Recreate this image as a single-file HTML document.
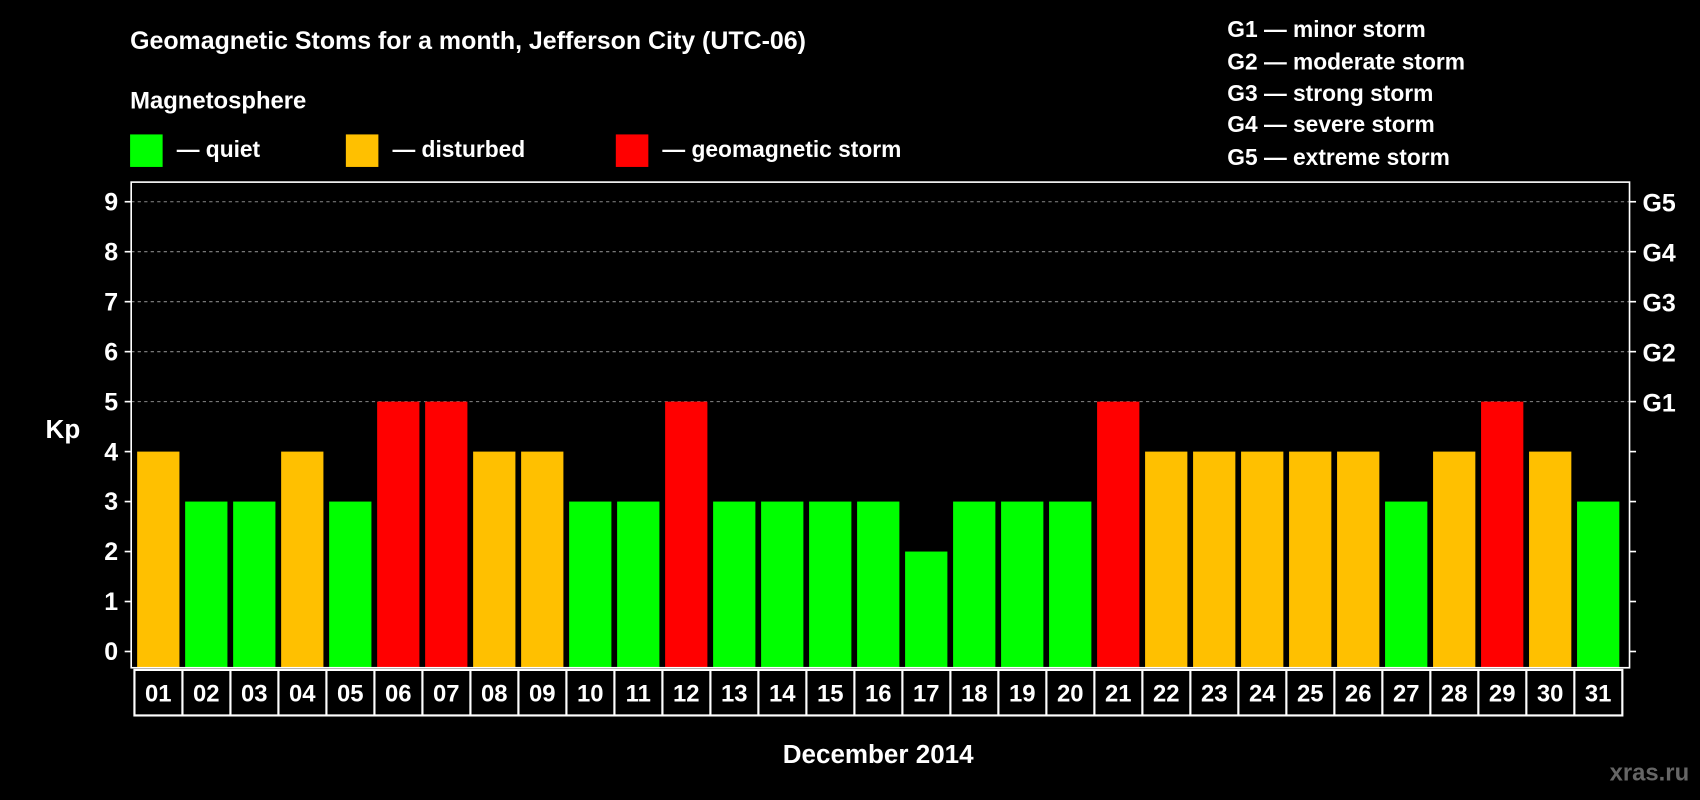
<!DOCTYPE html>
<html><head><meta charset="utf-8"><style>
html,body{margin:0;padding:0;background:#000;}
svg{display:block;font-family:"Liberation Sans",sans-serif;font-weight:bold;}
</style></head><body>
<svg width="1700" height="800" viewBox="0 0 1568 738" preserveAspectRatio="none" xmlns="http://www.w3.org/2000/svg">
<rect width="1568" height="738" fill="#000"/>
<text x="120" y="45" fill="#fff" font-size="23">Geomagnetic Stoms for a month, Jefferson City (UTC-06)</text>
<text x="120" y="100" fill="#fff" font-size="22">Magnetosphere</text>
<g><rect x="120" y="124" width="30" height="30" fill="#00ff00"/><text x="163" y="145" fill="#fff" font-size="21">— quiet</text></g>
<g><rect x="319" y="124" width="30" height="30" fill="#ffc000"/><text x="362" y="145" fill="#fff" font-size="21">— disturbed</text></g>
<g><rect x="568" y="124" width="30" height="30" fill="#ff0000"/><text x="611" y="145" fill="#fff" font-size="21">— geomagnetic storm</text></g>
<g fill="#fff" font-size="21">
<text x="1132" y="34">G1 — minor storm</text><text x="1132" y="64">G2 — moderate storm</text><text x="1132" y="93">G3 — strong storm</text><text x="1132" y="122">G4 — severe storm</text><text x="1132" y="152">G5 — extreme storm</text>
</g>
<g id="plot"></g>
<text x="58" y="404" fill="#fff" font-size="24" text-anchor="middle">Kp</text>
<text x="810" y="704" fill="#fff" font-size="24" text-anchor="middle">December 2014</text>
<text x="1558" y="720" fill="#666" font-size="22" text-anchor="end">xras.ru</text>
</svg>
<script>
const days=["01","02","03","04","05","06","07","08","09","10","11","12","13","14","15","16","17","18","19","20","21","22","23","24","25","26","27","28","29","30","31"];
const kp=[4,3,3,4,3,5,5,4,4,3,3,5,3,3,3,3,2,3,3,3,5,4,4,4,4,4,3,4,5,4,3];
const yTicks=[0,1,2,3,4,5,6,7,8,9];
const gLabels=["","","","","","G1","G2","G3","G4","G5"];
const NS="http://www.w3.org/2000/svg";
const g=document.getElementById('plot');
const L=121,R=1503,T=168,B=616;
const y=v=>601-v*46.1;
const step=44.27,x0=146;
const x=i=>x0+i*step;
function mk(t,a){const e=document.createElementNS(NS,t);for(const k in a)e.setAttribute(k,a[k]);g.appendChild(e);return e;}
yTicks.forEach((v,i)=>{
 if(v>=5){const l=mk('line',{x1:L,x2:R,y1:y(v),y2:y(v),stroke:'#888','stroke-dasharray':'3,3'});
 
 }
 const t1=mk('line',{x1:L-6,x2:L,y1:y(v),y2:y(v),stroke:'#fff','stroke-width':1.5});
 
 
 const t2=mk('line',{x1:R,x2:R+6,y1:y(v),y2:y(v),stroke:'#fff','stroke-width':1.5});
 
 
 const tl=mk('text',{x:L-12,y:y(v)+8,fill:'#fff','font-size':23,'text-anchor':'end'});tl.textContent=v;
 
 
 if(gLabels[i]){const gl=mk('text',{x:R+12,y:y(v)+9,fill:'#fff','font-size':23});gl.textContent=gLabels[i];
 
 }
});
kp.forEach((v,i)=>{
 const c=v>=5?'#ff0000':(v>=4?'#ffc000':'#00ff00');
 const b=mk('rect',{x:x(i)-19.5,y:y(v),width:39,height:B-y(v),fill:c});
 
 
});
const fr=mk('rect',{x:L,y:T,width:R-L,height:B-T,fill:'none',stroke:'#fff','stroke-width':1.5});


const bx=mk('rect',{x:x(0)-22,y:618,width:step*days.length,height:42,fill:'none',stroke:'#fff','stroke-width':2});


days.forEach((d,i)=>{
 if(i>0){const s=mk('line',{x1:x(i)-22,x2:x(i)-22,y1:618,y2:660,stroke:'#fff','stroke-width':2});
 
 }
 const t=mk('text',{x:x(i),y:647,fill:'#fff','font-size':22,'text-anchor':'middle'});t.textContent=d;
 
 
});
</script>
</body></html>
